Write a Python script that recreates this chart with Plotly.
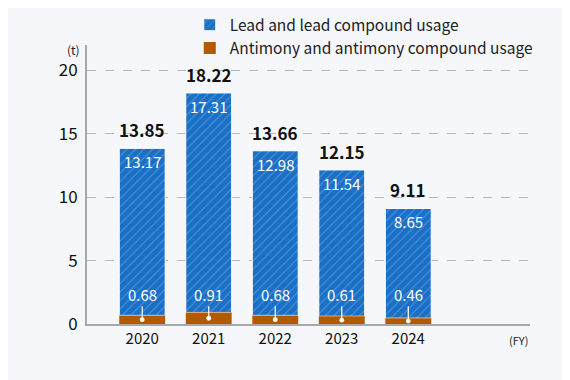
import plotly.graph_objects as go

years = [2020, 2021, 2022, 2023, 2024]
lead = [13.17, 17.31, 12.98, 11.54, 8.65]
antimony = [0.68, 0.91, 0.68, 0.61, 0.46]
totals = [13.85, 18.22, 13.66, 12.15, 9.11]

FONT = "Noto Sans CJK JP"
BLUE = "#1a70c6"
BROWN = "#b35a00"
BG = "#f5f7fa"

fig = go.Figure()
fig.add_trace(go.Bar(
    x=years, y=lead, base=antimony, name="Lead and lead compound usage",
    width=0.69, marker=dict(color=BLUE, line=dict(color="white", width=1),
                            pattern=dict(shape="/", fgcolor="#86b8ea", size=6, solidity=0.18)),
))
fig.add_trace(go.Bar(
    x=years, y=antimony, name="Antimony and antimony compound usage",
    width=0.69, marker=dict(color=BROWN, line=dict(width=0)),
))

for x, l, a, t in zip(years, lead, antimony, totals):
    fig.add_annotation(x=x, y=t, text=f"<b>{t:.2f}</b>", showarrow=False, yanchor="bottom",
                       yshift=4, font=dict(family=FONT, size=17, color="#111"))
    fig.add_annotation(x=x, y=t, text=f"{l:.2f}", showarrow=False, yanchor="top",
                       yshift=-1, font=dict(family=FONT, size=15, color="white"))
    fig.add_annotation(x=x, y=a / 2, ax=x, ay=2.35, axref="x", ayref="y",
                       text=f"{a:.2f}", showarrow=True, arrowhead=6, arrowsize=1,
                       arrowwidth=1.2, arrowcolor="white", standoff=0,
                       font=dict(family=FONT, size=15, color="white"))

fig.add_annotation(xref="paper", yref="paper", x=-0.012, y=0.985, text="(t)", showarrow=False,
                   xanchor="right", yanchor="middle", font=dict(family=FONT, size=12, color="#222"))
fig.add_annotation(xref="paper", yref="paper", x=1.0, y=0, yshift=-16, text="(FY)", showarrow=False,
                   xanchor="right", yanchor="middle", font=dict(family=FONT, size=11, color="#222"))

fig.update_layout(
    width=570, height=380, barmode="overlay",
    paper_bgcolor=BG, plot_bgcolor=BG,
    margin=dict(l=79, r=48, t=37, b=64, autoexpand=False),
    font=dict(family=FONT, size=14, color="#111"),
    showlegend=True,
    legend=dict(x=0.232, y=1.132, xanchor="left", yanchor="top", bgcolor="rgba(0,0,0,0)",
                traceorder="normal", font=dict(size=15.5, color="#222"),
                itemwidth=30, tracegroupgap=0),
    xaxis=dict(range=[2019.17, 2025.83], tickvals=years, ticktext=[str(y) for y in years],
               showgrid=False, showline=True, linecolor="#a8a8a8", linewidth=2,
               ticks="", zeroline=False, tickfont=dict(size=15, color="#111")),
    yaxis=dict(range=[0, 22], tickvals=[0, 5, 10, 15, 20], showgrid=True,
               gridcolor="#b8b8b8", griddash="dash", gridwidth=1,
               showline=True, linecolor="#a8a8a8", linewidth=2, ticks="",
               zeroline=False, tickfont=dict(size=17, color="#111"), ticklabelstandoff=4),
)
fig.write_html("out.html")
